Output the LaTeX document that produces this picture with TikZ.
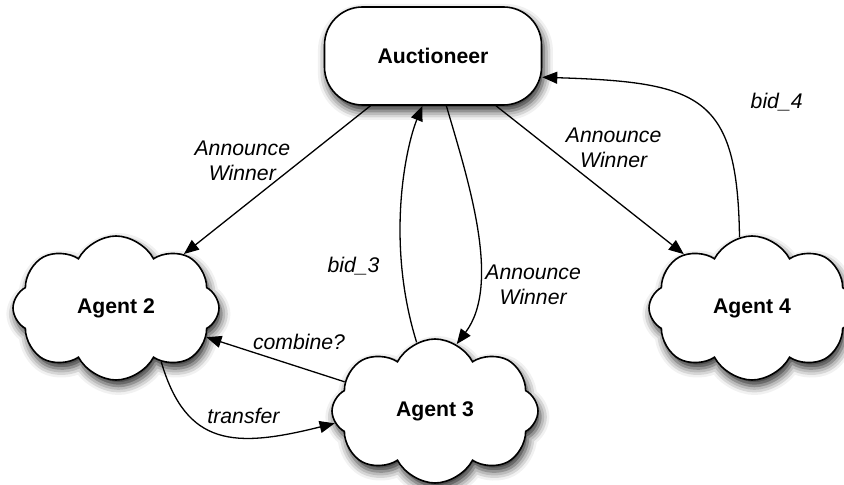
\documentclass[tikz,border=0pt]{standalone}
\usepackage{fontspec}
\setmainfont{Liberation Sans}
\usetikzlibrary{arrows.meta,shapes.symbols,shadows.blur}

\begin{document}
\begin{tikzpicture}[x=0.5pt,y=-0.5pt,>={Triangle[length=7.5pt,width=6pt]},->,line width=0.65pt,
    boss/.style={draw,fill=white,line width=0.8pt,rounded corners=19pt,minimum width=108.5pt,minimum height=49pt,font=\fontsize{10.6}{12}\selectfont\bfseries,blur shadow={shadow xshift=1.2pt,shadow yshift=-3pt,shadow blur radius=4.5pt,shadow opacity=85}},
    agent/.style={cloud,cloud puffs=8,cloud puff arc=125,cloud ignores aspect,draw,fill=white,line width=0.8pt,minimum width=103pt,minimum height=72pt,font=\fontsize{10.6}{12}\selectfont\bfseries,blur shadow={shadow xshift=1.2pt,shadow yshift=-3pt,shadow blur radius=4.5pt,shadow opacity=85}},
    lbl/.style={font=\fontsize{10.6}{12.5}\selectfont\itshape,align=center}]
\useasboundingbox (0,0) rectangle (844,485);
\node[boss] (auc) at (433,56) {Auctioneer};
\foreach \n/\x/\y in {2/116/308,3/435/411,4/752/308}
    \node[agent] (a\n) at (\x,\y) {Agent \n};
\draw (auc) -- node[lbl,pos=.37,left=2pt] {Announce\\Winner} (a2);
\draw (auc) -- node[lbl,pos=.28,right=5pt] {Announce\\Winner} (a4);
\draw (a3) -- node[lbl,pos=.33,above=5pt] {combine?} (a2);
\draw (a3.105) .. controls +(-31,-100) and +(-17,42) .. node[lbl,pos=.26,left=7.5pt] {bid\_3} (auc.258);
\draw (auc.285) .. controls +(22,75) and +(45,-60) .. node[lbl,pos=.72,right=0pt] {Announce\\Winner} (a3.72);
\draw (a4.100) .. controls +(-2,-142) and +(158,5) .. node[lbl,pos=.5,right=22pt,yshift=2pt] {bid\_4} (auc.349);
\draw (a2.310) .. controls +(25,85) and +(-100,25) .. node[lbl,pos=.63,above=3pt] {transfer} (a3.187);
\end{tikzpicture}
\end{document}
